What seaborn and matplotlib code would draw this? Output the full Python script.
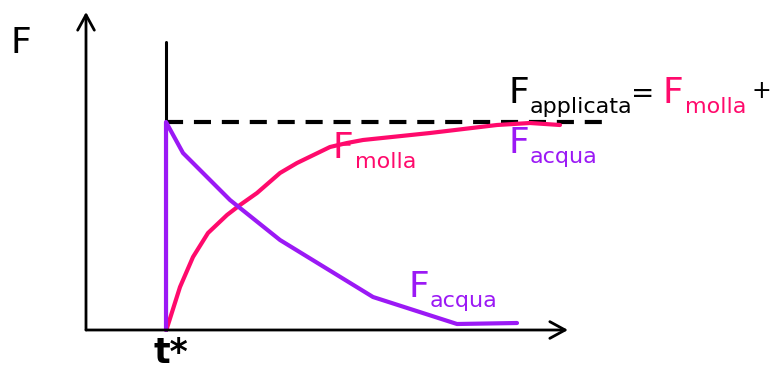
import matplotlib
matplotlib.use("Agg")
import matplotlib.pyplot as plt
import seaborn as sns

# time / force readings (origin at the axes corner, force upward)
t_star = 80
f_applied = 208

t_molla = [80, 81, 94, 107, 122, 141, 154, 171, 194, 211, 244, 261, 277, 344, 411, 444, 474]
f_molla = [0, 2, 43, 73, 97, 115, 125, 137, 157, 167, 183, 187, 190, 197, 205, 207, 205]

t_acqua = [80, 80, 97, 144, 194, 287, 371, 431]
f_acqua = [0, 208, 177, 130, 90, 33, 6, 7]

t_end_dash = 519
t_axis_end = 482
f_axis_end = 318
f_tstar_top = 288

MAGENTA = "#ff0a6c"
PURPLE = "#9b19f5"

sns.set_style("white")
plt.rcParams["font.family"] = ["DejaVu Sans"]

fig = plt.figure(figsize=(7.72, 3.69), dpi=100)
ax = fig.add_axes([0, 0, 1, 1])
ax.set_xlim(-86, 686)
ax.set_ylim(-39, 330)
ax.axis("off")

# axes with open arrowheads
arrow = dict(arrowstyle="->,head_length=1.1,head_width=0.6", color="black", lw=2.0,
             shrinkA=0, shrinkB=0)
ax.annotate("", xy=(0, f_axis_end), xytext=(0, 0), arrowprops=arrow)
ax.annotate("", xy=(t_axis_end, 0), xytext=(0, 0), arrowprops=arrow)

# t* marker and applied force level
sns.lineplot(x=[t_star, t_star], y=[0, f_tstar_top], color="black", lw=2.2,
             sort=False, estimator=None, ax=ax)
sns.lineplot(x=[t_star, t_end_dash], y=[f_applied, f_applied], color="black", lw=3,
             sort=False, estimator=None, ax=ax)
ax.lines[-1].set_dashes([4.1, 2.6])

sns.lineplot(x=t_molla, y=f_molla, color=MAGENTA, lw=3.0, sort=False, estimator=None, ax=ax)
sns.lineplot(x=t_acqua, y=f_acqua, color=PURPLE, lw=3.0, sort=False, estimator=None, ax=ax)


def label(x, y, main, sub, color, size=26, subsize=16, gap=1):
    t = ax.text(x, y, main, color=color, fontsize=size, ha="left", va="baseline")
    fig.canvas.draw()
    inv = ax.transData.inverted()
    xr = inv.transform((t.get_window_extent().x1 + gap, 0))[0]
    ax.text(xr, y - 10, sub, color=color, fontsize=subsize, ha="left", va="baseline")


ax.text(-76, 277, "F", color="black", fontsize=26, ha="left", va="baseline")
ax.text(68, -33, "t*", color="black", fontsize=25, fontweight="bold", ha="left", va="baseline")

label(247, 172, "F", "molla", MAGENTA)
label(422, 177, "F", "acqua", PURPLE)
label(322, 33, "F", "acqua", PURPLE)
label(422, 227, "F", "applicata", "black")
ax.text(545, 228, "=", color="black", fontsize=20, ha="left", va="baseline")
label(577, 227, "F", "molla", MAGENTA)
ax.text(665, 232, "+", color="black", fontsize=17, ha="left", va="baseline")

fig.savefig("out.png", dpi=100)
